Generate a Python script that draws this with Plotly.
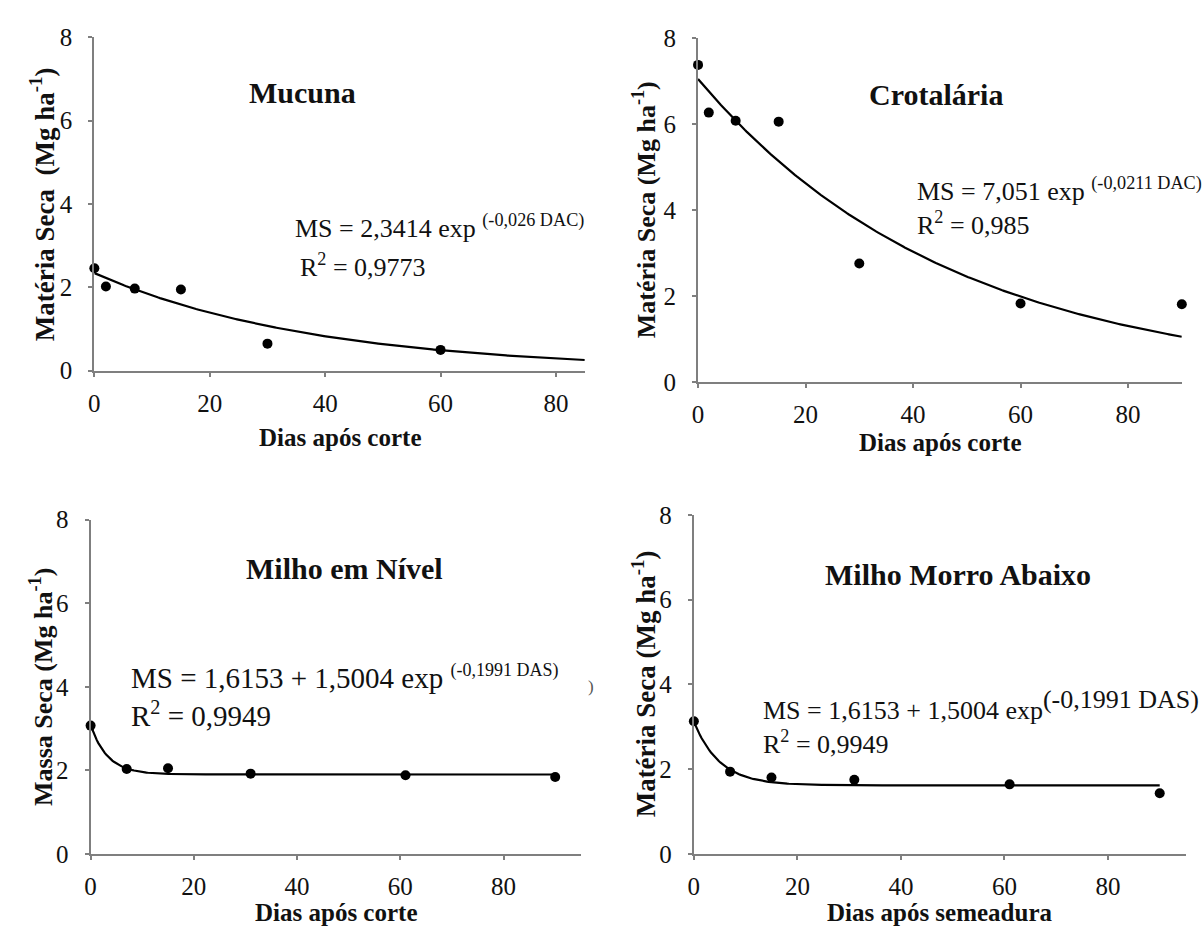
import numpy as np
import plotly.graph_objects as go

# ---------------- data ----------------
mucuna_dias = [0, 2, 7, 15, 30, 60]
mucuna_ms = [2.46, 2.02, 1.97, 1.95, 0.65, 0.50]

crot_dias = [0, 2, 7, 15, 30, 60, 90]
crot_ms = [7.38, 6.27, 6.08, 6.06, 2.76, 1.83, 1.81]

nivel_dias = [0, 7, 15, 31, 61, 90]
nivel_ms = [3.07, 2.03, 2.05, 1.92, 1.88, 1.84]

morro_dias = [0, 7, 15, 31, 61, 90]
morro_ms = [3.13, 1.94, 1.80, 1.75, 1.64, 1.43]

# fitted model parameters  MS = a + b * exp(k * dias)
mucuna_fit = [0.0, 2.3414, -0.026]
crot_fit = [0.0, 7.051, -0.0211]
nivel_fit = [1.90, 1.18, -0.30]      # curve as drawn in the panel
morro_fit = [1.6153, 1.5004, -0.1991]
fit_end = [85, 90, 90, 90]

x_max = [85, 90, 95, 95]
y_ticks = [0, 2, 4, 6, 8]
x_ticks = [0, 20, 40, 60, 80]

panel_titles = ["Mucuna", "Crotalária", "Milho em Nível", "Milho Morro Abaixo"]
x_titles = ["Dias após corte", "Dias após corte", "Dias após corte", "Dias após semeadura"]
y_titles = ["Matéria Seca&nbsp; (Mg ha<sup>-1</sup>)", "Matéria Seca (Mg ha<sup>-1</sup>)",
            "Massa Seca (Mg ha<sup>-1</sup>)", "Matéria Seca (Mg ha<sup>-1</sup>)"]
eq_line1 = ["MS = 2,3414 exp <sup>(-0,026 DAC)</sup>",
            "MS = 7,051 exp <sup>(-0,0211 DAC)</sup>",
            "MS = 1,6153 + 1,5004 exp <sup><span style='font-size:18px'>(-0,1991 DAS)</span></sup>",
            "MS = 1,6153 + 1,5004 exp<sup><span style='font-size:26px'>(-0,1991 DAS)</span></sup>"]
eq_line2 = ["R<sup>2</sup> = 0,9773", "R<sup>2</sup> = 0,985",
            "R<sup>2</sup> = 0,9949", "R<sup>2</sup> = 0,9949"]

# ---------------- layout geometry ----------------
W, H = 1204, 940
FONT = "Liberation Serif"
INK = "#111111"
dom_px = [  # x0, x1, ytop, ybottom in pixels
    (88.8, 581.7, 25.0, 368.3),
    (695.5, 1181.7, 26.0, 380.0),
    (85.0, 577.9, 521.7, 865.7),
    (691.3, 1185.5, 516.7, 865.7),
]
title_pos = [(36.0, 6.67), (44.3, 6.70), (49.2, 6.84), (51.1, 6.59)]
# panel 1: two separate lines; panels 2-4: one two-line block
eq_sep = [True, False, False, False]
eq1_pos = [(34.4, 3.45), (40.3, 4.08), (7.35, 3.79), (13.0, 3.12)]
eq2_pos = [(35.3, 2.52), None, None, None]
eq_size = [26, 26, 29, 26]
xtitle_y_px = [437, 442, 926, 926]
ytitle_x_px = [36.4, 641.3, 36.4, 641.2]
ytitle_size = [27, 26, 26, 27]

data_x = [mucuna_dias, crot_dias, nivel_dias, morro_dias]
data_y = [mucuna_ms, crot_ms, nivel_ms, morro_ms]
fits = [mucuna_fit, crot_fit, nivel_fit, morro_fit]

fig = go.Figure()
annotations = []
for i in range(4):
    sfx = "" if i == 0 else str(i + 1)
    xa, ya = "x" + sfx, "y" + sfx
    a, b, k = fits[i]
    xf = np.linspace(0, fit_end[i], 300)
    yf = a + b * np.exp(k * xf)
    fig.add_trace(go.Scatter(x=xf, y=yf, mode="lines", xaxis=xa, yaxis=ya,
                             line=dict(color="black", width=2.2),
                             showlegend=False, hoverinfo="skip"))
    fig.add_trace(go.Scatter(x=data_x[i], y=data_y[i], mode="markers", xaxis=xa, yaxis=ya,
                             marker=dict(color="black", size=10),
                             cliponaxis=False, showlegend=False))
    x0, x1, yt, yb = dom_px[i]
    axis_common = dict(showline=True, linecolor="#7f7f7f", linewidth=2,
                       ticks="outside", ticklen=4, tickwidth=1.5, tickcolor="#7f7f7f",
                       showgrid=False, zeroline=False,
                       tickfont=dict(family=FONT, size=25, color=INK))
    fig.layout["xaxis" + sfx] = dict(domain=[x0 / W, x1 / W], anchor=ya,
                                     range=[0, x_max[i]], tickvals=x_ticks,
                                     ticklabelstandoff=5, **axis_common)
    fig.layout["yaxis" + sfx] = dict(domain=[1 - yb / H, 1 - yt / H], anchor=xa,
                                     range=[0, 8], tickvals=y_ticks,
                                     ticklabelstandoff=11, **axis_common)
    # panel title
    annotations.append(dict(x=title_pos[i][0], y=title_pos[i][1], xref=xa, yref=ya,
                            text="<b>" + panel_titles[i] + "</b>", showarrow=False,
                            xanchor="center", yanchor="middle",
                            font=dict(family=FONT, size=30, color=INK)))
    # equations
    if eq_sep[i]:
        annotations.append(dict(x=eq1_pos[i][0], y=eq1_pos[i][1], xref=xa, yref=ya,
                                text=eq_line1[i], showarrow=False,
                                xanchor="left", yanchor="middle",
                                font=dict(family=FONT, size=eq_size[i], color=INK)))
        annotations.append(dict(x=eq2_pos[i][0], y=eq2_pos[i][1], xref=xa, yref=ya,
                                text=eq_line2[i], showarrow=False,
                                xanchor="left", yanchor="middle",
                                font=dict(family=FONT, size=eq_size[i], color=INK)))
    else:
        annotations.append(dict(x=eq1_pos[i][0], y=eq1_pos[i][1], xref=xa, yref=ya,
                                text=eq_line1[i] + "<br>" + eq_line2[i], showarrow=False,
                                xanchor="left", yanchor="middle", align="left",
                                font=dict(family=FONT, size=eq_size[i], color=INK)))
    # axis titles
    annotations.append(dict(x=(x0 + x1) / 2 / W, y=1 - xtitle_y_px[i] / H,
                            xref="paper", yref="paper",
                            text="<b>" + x_titles[i] + "</b>", showarrow=False,
                            xanchor="center", yanchor="middle",
                            font=dict(family=FONT, size=25, color=INK)))
    annotations.append(dict(x=ytitle_x_px[i] / W, y=1 - (yt + yb) / 2 / H,
                            xref="paper", yref="paper", textangle=-90,
                            text="<b>" + y_titles[i] + "</b>", showarrow=False,
                            xanchor="center", yanchor="middle",
                            font=dict(family=FONT, size=ytitle_size[i], color=INK)))

# stray bracket visible at the right of the third panel in the reference
annotations.append(dict(x=583 / W, y=1 - 693 / H, xref="paper", yref="paper",
                        text=")", showarrow=False, xanchor="left", yanchor="middle",
                        font=dict(family=FONT, size=17, color="#555555")))

fig.update_layout(width=W, height=H, margin=dict(l=0, r=0, t=0, b=0),
                  paper_bgcolor="white", plot_bgcolor="white",
                  font=dict(family=FONT, size=25, color=INK),
                  annotations=annotations, showlegend=False)

fig.write_html("out.html")
